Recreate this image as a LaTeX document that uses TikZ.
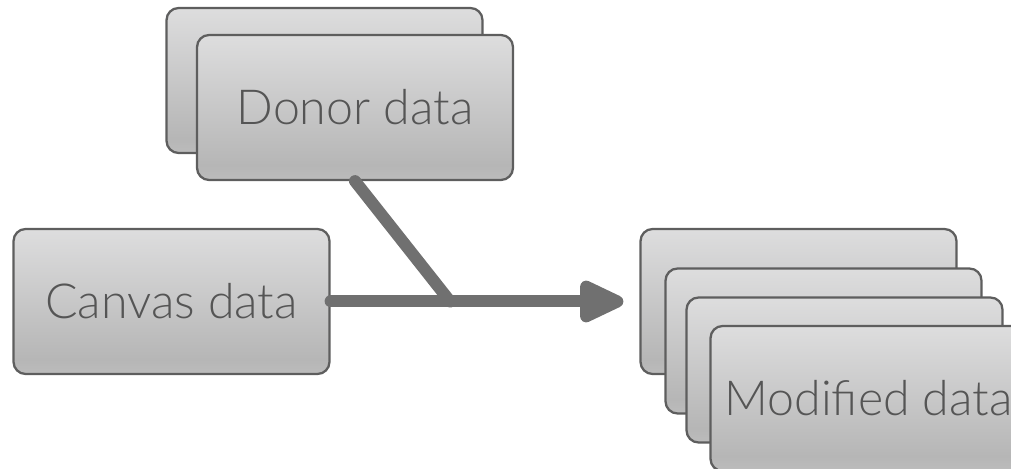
\documentclass[tikz,border=0pt]{standalone}
\usepackage{fontspec}
\setmainfont{Lato Light}
\usetikzlibrary{arrows.meta}
\definecolor{boxline}{HTML}{5E5E5E}
\definecolor{txt}{HTML}{555555}
\definecolor{connc}{HTML}{707070}
\definecolor{shtop}{HTML}{F3F3F4}
\definecolor{shmid}{HTML}{B6B6B6}
\definecolor{shbot}{HTML}{D9D9D9}
\pgfdeclareverticalshading{boxshade}{100bp}{color(0bp)=(shbot); color(30bp)=(shmid); color(100bp)=(shtop)}
\begin{document}
\begin{tikzpicture}[x=0.02cm,y=-0.02cm,
  databox/.style={draw=boxline, line width=1.3pt, rounded corners=0.24cm,
    shading=boxshade, minimum width=6.32cm, minimum height=2.9cm,
    inner sep=0pt, text=txt, font=\fontsize{27.5}{32}\selectfont},
  conn/.style={draw=connc, line width=0.24cm, line cap=round}]
\useasboundingbox (0,0) rectangle (1011,469);
\clip (0,0) rectangle (1011,469);
% donor stack
\node[databox] (donorback) at (324.5,80.5) {};
\node[databox] (donor) at (355,107.5) {Donor data};
% canvas
\node[databox] (canvas) at (171.5,301.5) {Canvas data};
% modified stack
\node[databox] (mod1) at (798.5,301.5) {};
\node[databox] (mod2) at (823.5,341) {};
\node[databox] (mod3) at (844.5,370) {};
\node[databox] (mod) at (868.5,398.5) {Modified data};
% connectors
\draw[conn, -{Triangle[length=1.05cm,width=0.9cm,round]}, shorten >=0.32cm]
  (canvas.east) -- coordinate[pos=0.387] (join) (mod1.west);
\draw[conn] (donor.south) -- (join);
\end{tikzpicture}
\end{document}
